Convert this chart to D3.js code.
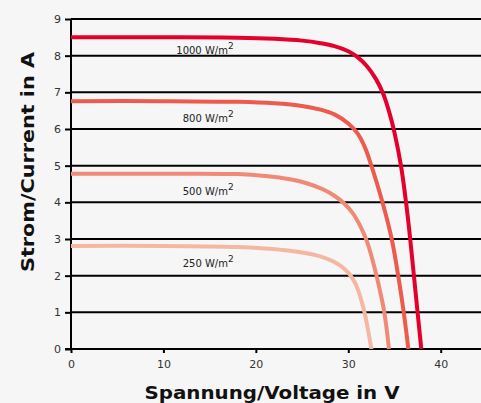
<!DOCTYPE html>
<html><head><meta charset="utf-8">
<script src="https://cdn.jsdelivr.net/npm/d3@7"></script>
<style>
html,body{margin:0;padding:0;background:#f6f6f6;}
svg{display:block;}
</style></head>
<body>
<svg id="c" width="481" height="403"></svg>
<script>
const xTicks = [0, 10, 20, 30, 40];
const yTicks = [0, 1, 2, 3, 4, 5, 6, 7, 8, 9];
const seriesNames = ["1000 W/m", "800 W/m", "500 W/m", "250 W/m"];
const seriesColors = ["#e3002c", "#ec5b4b", "#f08a76", "#f6b7a2"];
const curve1000 = [[0,8.5],[10,8.5],[18,8.49],[22,8.46],[25,8.41],[27,8.34],[28.5,8.26],[30,8.12],[31,7.96],[32,7.72],[33,7.36],[33.8,6.95],[34.5,6.4],[35,5.9],[35.7,5.0],[36.25,4.0],[36.7,3.0],[37.1,2.0],[37.5,1.0],[37.9,0]];
const curve800 = [[0,6.76],[10,6.76],[18,6.74],[22,6.7],[25,6.63],[27,6.53],[28.5,6.4],[30,6.15],[31,5.88],[31.8,5.5],[32.5,5.0],[33.7,4.0],[34.7,3.0],[35.4,2.0],[36.0,1.0],[36.5,0]];
const curve500 = [[0,4.78],[10,4.78],[18,4.77],[21,4.72],[23.7,4.63],[25.5,4.52],[27.3,4.35],[28.5,4.18],[29.5,3.98],[30.5,3.7],[31.3,3.35],[32,2.95],[32.6,2.45],[33.15,1.9],[33.9,1.0],[34.4,0]];
const curve250 = [[0,2.81],[10,2.81],[18,2.78],[21,2.74],[23.7,2.68],[25.5,2.61],[27.3,2.5],[28.5,2.37],[29.5,2.2],[30.2,2.02],[30.7,1.82],[31.1,1.58],[31.5,1.25],[31.8,0.95],[32.15,0.5],[32.5,0]];
const curves = [curve1000, curve800, curve500, curve250];

const svg = d3.select("#c");
const x = d3.scaleLinear().domain([0, 40]).range([71, 440.7]);
const y = d3.scaleLinear().domain([0, 9]).range([349, 19]);

// gridlines
svg.append("g").selectAll("line").data(yTicks.filter(d => d > 0)).join("line")
  .attr("x1", x(0)).attr("x2", 481)
  .attr("y1", d => y(d)).attr("y2", d => y(d))
  .attr("stroke", "#000").attr("stroke-width", 2);

// y axis
const yAxis = d3.axisLeft(y).tickValues(yTicks).tickSize(6).tickPadding(4);
const gy = svg.append("g").attr("transform", `translate(${x(0)},0)`).call(yAxis);
gy.select(".domain").attr("stroke", "#000").attr("stroke-width", 2).attr("d", `M0,${y(9)}V${y(0)+1}`);
gy.selectAll(".tick line").attr("stroke", "#000").attr("stroke-width", 2);
gy.selectAll(".tick text").attr("fill", "#333").style("font-family", "DejaVu Sans, sans-serif").style("font-size", "11px");

// x axis
const xAxis = d3.axisBottom(x).tickValues(xTicks).tickSize(4).tickPadding(7);
const gx = svg.append("g").attr("transform", `translate(0,${y(0)})`).call(xAxis);
gx.select(".domain").attr("stroke", "#000").attr("stroke-width", 2).attr("d", `M${x(0)-6},0H481`);
gx.selectAll(".tick line").attr("stroke", "#000").attr("stroke-width", 2);
gx.selectAll(".tick text").attr("fill", "#333").style("font-family", "DejaVu Sans, sans-serif").style("font-size", "11px");

// curves
const line = d3.line().x(d => x(d[0])).y(d => y(d[1])).curve(d3.curveCatmullRom.alpha(0.5));
svg.append("g").selectAll("path").data(curves).join("path")
  .attr("d", line).attr("fill", "none")
  .attr("stroke", (d, i) => seriesColors[i]).attr("stroke-width", 4)
  .attr("stroke-linecap", "butt");

// labels
const labelX = 17.6;
const lbl = svg.append("g").selectAll("text").data(seriesNames).join("text")
  .attr("x", x(labelX)).attr("y", (d, i) => y(curves[i][0][1]) + (i === 0 ? 17 : 21))
  .attr("text-anchor", "end")
  .style("font-family", "DejaVu Sans, sans-serif").style("font-size", "10px").attr("fill", "#222");
lbl.append("tspan").text(d => d);
lbl.append("tspan").attr("dy", -5).style("font-size", "9px").text("2");

// titles
svg.append("text").attr("x", 272).attr("y", 399).attr("text-anchor", "middle")
  .style("font-family", "DejaVu Sans, sans-serif").style("font-weight", "bold").style("font-size", "18px")
  .attr("textLength", 255).attr("lengthAdjust", "spacingAndGlyphs")
  .attr("fill", "#111").text("Spannung/Voltage in V");
svg.append("text").attr("transform", "translate(34,162) rotate(-90)").attr("text-anchor", "middle")
  .style("font-family", "DejaVu Sans, sans-serif").style("font-weight", "bold").style("font-size", "18px")
  .attr("textLength", 220).attr("lengthAdjust", "spacingAndGlyphs")
  .attr("fill", "#111").text("Strom/Current in A");
</script>
</body></html>
